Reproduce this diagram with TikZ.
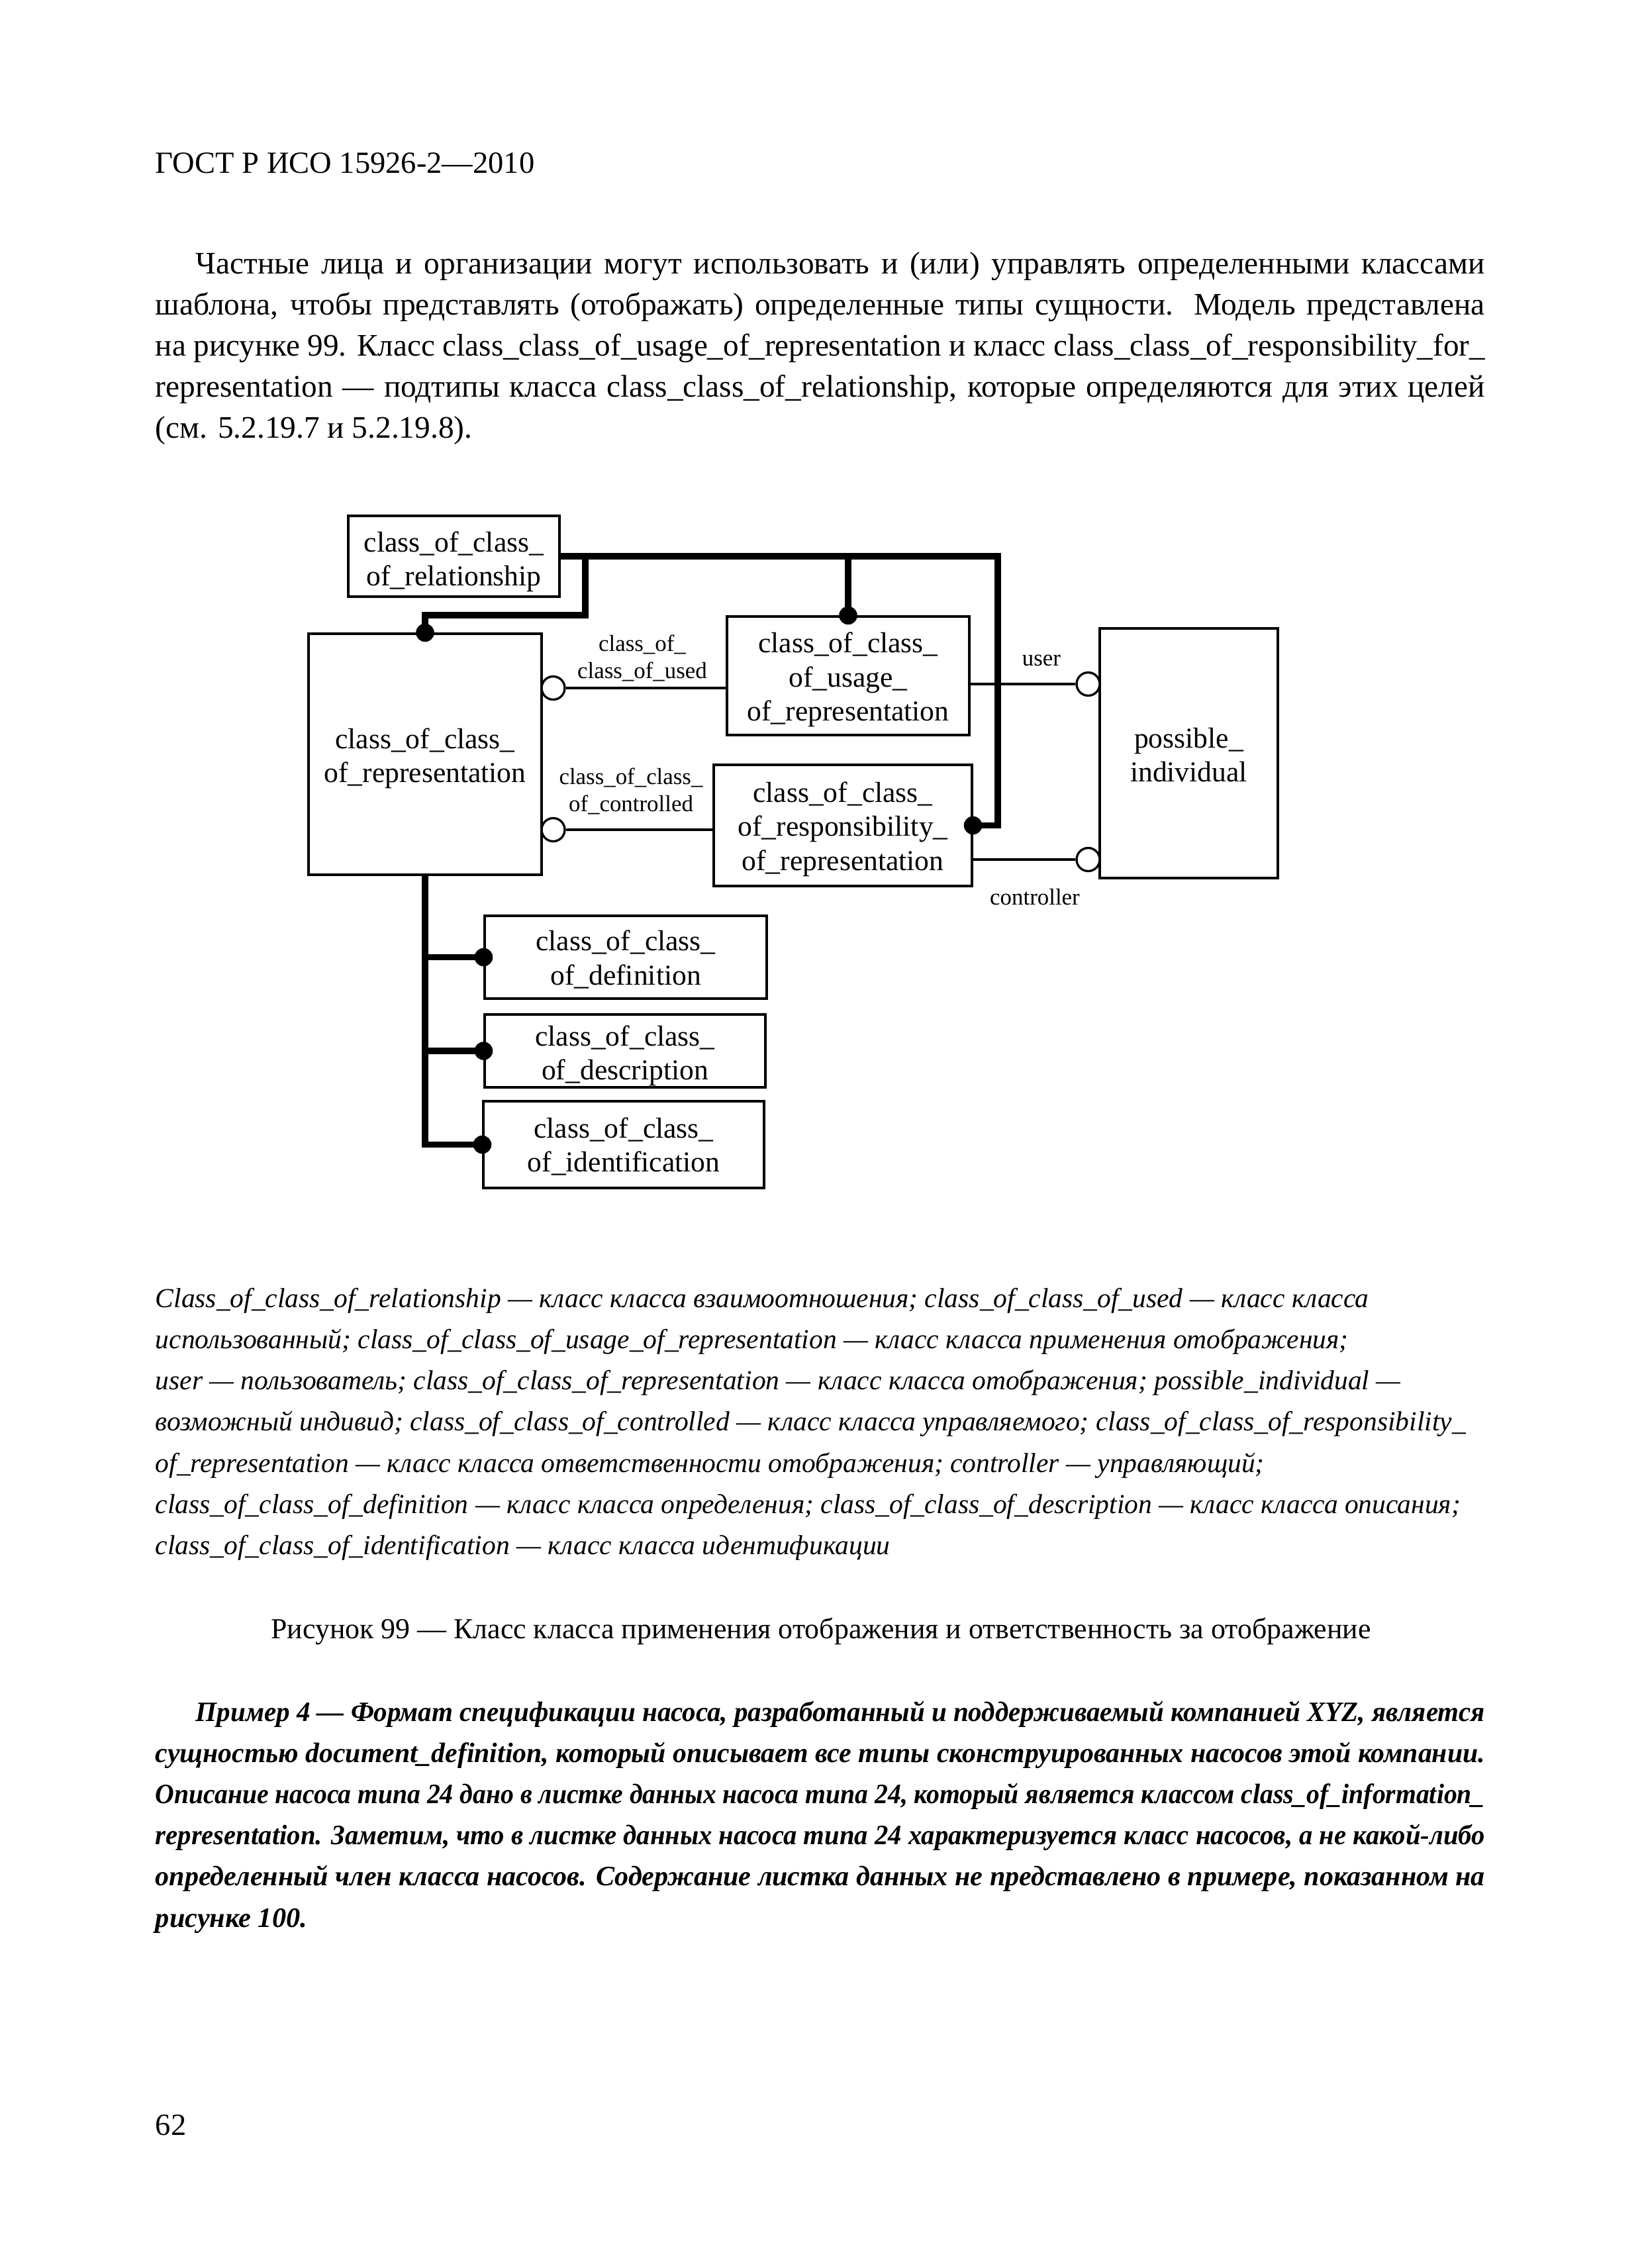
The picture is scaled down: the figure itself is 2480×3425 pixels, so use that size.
\documentclass[tikz,border=0pt]{standalone}
\usepackage{fontspec}
\usepackage{graphicx}
\setmainfont{Liberation Serif}
\usetikzlibrary{calc}
\newsavebox\jlbox
\newcommand\jline[2]{\sbox\jlbox{#2}\ifdim\wd\jlbox>#1\relax\resizebox{#1}{\ht\jlbox}{\usebox\jlbox}\else\makebox[#1][s]{#2}\fi}
\newcommand\bt[2]{\raisebox{-#1}[\height][\depth]{\begin{tabular}{@{}c@{}}#2\end{tabular}}}
\begin{document}
\begin{tikzpicture}[x=0.0846667mm,y=-0.0846667mm,
  box/.style={draw, line width=0.75pt, inner sep=0pt, font=\fontsize{10.5}{12.4}\selectfont},
  lbl/.style={align=center, inner sep=0pt, font=\fontsize{8.4}{9.8}\selectfont},
  thickln/.style={line width=2.3pt, line join=miter},
  thinln/.style={line width=0.8pt},
  dot/.style={circle, fill=black, inner sep=0pt, minimum size=2.34mm},
  ring/.style={circle, draw, fill=white, line width=0.8pt, inner sep=0pt, minimum size=2.96mm},
  body/.style={anchor=base west, inner sep=0pt, font=\fontsize{11.4}{14.9}\selectfont},
  capt/.style={anchor=base west, inner sep=0pt, font=\fontsize{10}{14}\selectfont\itshape},
  expl/.style={anchor=base west, inner sep=0pt, font=\fontsize{10.2}{14}\selectfont\bfseries\itshape}]
\fill[white] (0,0) rectangle (2480,3425);
\useasboundingbox (0,0) rectangle (2480,3425);

% header and paragraph
\node[body, font=\fontsize{11.2}{14.9}\selectfont] (hdr) at (234,261) {ГОСТ Р ИСО 15926-2—2010};
\node[body] (p1) at (295,413) {\jline{164.85mm}{Частные лица и организации могут использовать и (или) управлять определенными классами}};
\node[body] (p2) at (234,475) {\jline{170.01mm}{шаблона, чтобы представлять (отображать) определенные типы сущности. Модель представлена}};
\node[body] (p3) at (234,537) {\jline{170.01mm}{на рисунке 99. Класс class\_class\_of\_usage\_of\_representation и класс class\_class\_of\_responsibility\_for\_}};
\node[body] (p4) at (234,599) {\jline{170.01mm}{representation — подтипы класса class\_class\_of\_relationship, которые определяются для этих целей}};
\node[body] (p5) at (234,661) {(см. 5.2.19.7 и 5.2.19.8).};

% boxes
\node[box, minimum width=27.01mm, minimum height=10.33mm] (rel) at (685.5,840) {\bt{2.1pt}{class\_of\_class\_\\of\_relationship}};
\node[box, minimum width=29.80mm, minimum height=30.82mm] (rep) at (642,1139) {\bt{1.6pt}{class\_of\_class\_\\of\_representation}};
\node[box, minimum width=30.99mm, minimum height=15.16mm] (usage) at (1281,1020.5) {\bt{1.6pt}{class\_of\_class\_\\of\_usage\_\\of\_representation}};
\node[box, minimum width=33.02mm, minimum height=15.49mm] (resp) at (1273,1246.5) {\bt{1.4pt}{class\_of\_class\_\\of\_responsibility\_\\of\_representation}};
\node[box, minimum width=22.78mm, minimum height=31.92mm] (poss) at (1795.5,1137.5) {\bt{1.7pt}{possible\_\\individual}};
\node[box, minimum width=36.07mm, minimum height=10.58mm] (def) at (945,1445.5) {\bt{1.4pt}{class\_of\_class\_\\of\_definition}};
\node[box, minimum width=35.90mm, minimum height=9.31mm] (desc) at (944,1587) {\bt{1.8pt}{class\_of\_class\_\\of\_description}};
\node[box, minimum width=35.90mm, minimum height=11.09mm] (ident) at (942,1728.5) {\bt{1.3pt}{class\_of\_class\_\\of\_identification}};

% thick connectors
\coordinate (tr) at (1507,840);
\coordinate (j1) at (884,840);
\coordinate (j2) at (884,929);
\draw[thickln] (rel.east) -- (tr) |- (resp.east);
\draw[thickln] (j1) -- (j2) -| (rep.north);
\draw[thickln] (usage.north |- tr) -- (usage.north);
\draw[thickln] (rep.south) -- (rep.south |- ident.west) -- (ident.west);
\draw[thickln] (rep.south |- def.west) -- (def.west);
\draw[thickln] (rep.south |- desc.west) -- (desc.west);

% dots
\node[dot] (d1) at (rep.north) {};
\node[dot] (d2) at (usage.north) {};
\node[dot] (d3) at (resp.east) {};
\node[dot] (d4) at (def.west) {};
\node[dot] (d5) at (desc.west) {};
\node[dot] (d6) at (ident.west) {};

% thin connectors with rings
\node[ring] (c1) at (835.5,1039) {};
\node[ring] (c2) at (835.5,1253) {};
\node[ring] (c3) at (1643.5,1033) {};
\node[ring] (c4) at (1643.5,1298) {};
\draw[thinln] (c1) -- (c1 -| usage.west);
\draw[thinln] (c2) -- (c2 -| resp.west);
\draw[thinln] (c3 -| usage.east) -- (c3);
\draw[thinln] (c4 -| resp.east) -- (c4);

% connector labels
\node[lbl] (l1) at (970,994) {class\_of\_\\class\_of\_used};
\node[lbl] (l2) at (953,1195) {class\_of\_class\_\\of\_controlled};
\node[lbl] (l3) at (1573,997) {user};
\node[lbl] (l4) at (1563,1355) {controller};

% legend
\node[capt] (k1) at (234,1974) {Class\_of\_class\_of\_relationship — класс класса взаимоотношения; class\_of\_class\_of\_used — класс класса};
\node[capt] (k2) at (234,2036.3) {использованный; class\_of\_class\_of\_usage\_of\_representation — класс класса применения отображения;};
\node[capt] (k3) at (234,2098.6) {user — пользователь; class\_of\_class\_of\_representation — класс класса отображения; possible\_individual —};
\node[capt] (k4) at (234,2160.9) {возможный индивид; class\_of\_class\_of\_controlled — класс класса управляемого; class\_of\_class\_of\_responsibility\_};
\node[capt] (k5) at (234,2223.2) {of\_representation — класс класса ответственности отображения; controller — управляющий;};
\node[capt] (k6) at (234,2285.5) {class\_of\_class\_of\_definition — класс класса определения; class\_of\_class\_of\_description — класс класса описания;};
\node[capt] (k7) at (234,2347.8) {class\_of\_class\_of\_identification — класс класса идентификации};

% figure caption
\node[anchor=base, inner sep=0pt, font=\fontsize{10.57}{14}\selectfont] (fig) at (1240,2474) {Рисунок 99 — Класс класса применения отображения и ответственность за отображение};

% example
\node[expl] (e1) at (295,2599) {\jline{164.85mm}{Пример 4 — Формат спецификации насоса, разработанный и поддерживаемый компанией XYZ, является}};
\node[expl] (e2) at (234,2661) {\jline{170.01mm}{сущностью document\_definition, который описывает все типы сконструированных насосов этой компании.}};
\node[expl] (e3) at (234,2723) {\jline{170.01mm}{Описание насоса типа 24 дано в листке данных насоса типа 24, который является классом class\_of\_information\_}};
\node[expl] (e4) at (234,2785) {\jline{170.01mm}{representation. Заметим, что в листке данных насоса типа 24 характеризуется класс насосов, а не какой-либо}};
\node[expl] (e5) at (234,2847) {\jline{170.01mm}{определенный член класса насосов. Содержание листка данных не представлено в примере, показанном на}};
\node[expl] (e6) at (234,2910) {рисунке 100.};

% page number
\node[body, font=\fontsize{11.2}{14.9}\selectfont] (pg) at (234,3224) {62};
\end{tikzpicture}
\end{document}
